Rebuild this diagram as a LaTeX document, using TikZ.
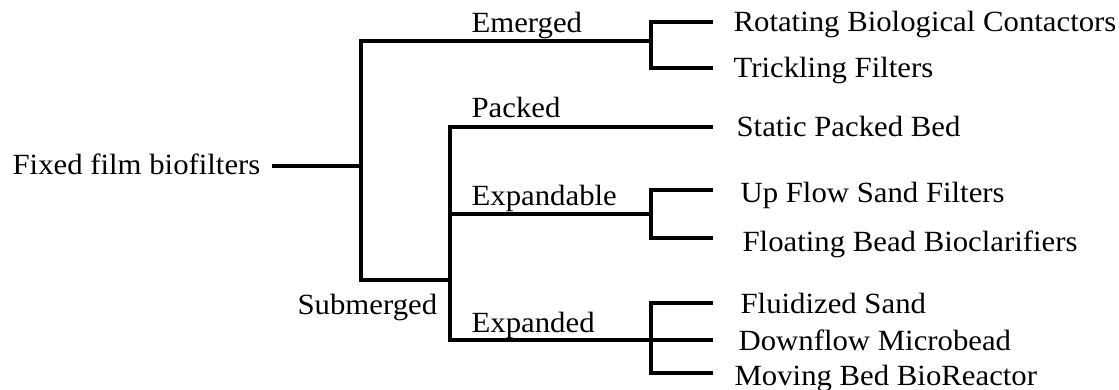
\documentclass[tikz,border=0pt]{standalone}
\usepackage{fontspec}
\setmainfont[FakeStretch=1.05]{Liberation Serif}
\begin{document}
\begin{tikzpicture}[x=1pt,y=-1pt,line width=3.2pt,
  lbl/.style={anchor=base west,inner sep=0pt,font=\fontsize{29.3}{30}\selectfont}]
\useasboundingbox (0,0) rectangle (1119,389);
% labels
\node[lbl] (root) at (11,174) {Fixed film biofilters};
\node[lbl] (em)   at (470,32)  {Emerged};
\node[lbl] (sub)  at (296,314) {Submerged};
\node[lbl] (pk)   at (470,117) {Packed};
\node[lbl] (exb)  at (470,205) {Expandable};
\node[lbl] (exd)  at (470,332) {Expanded};
\node[lbl] (rbc)  at (732,31)  {Rotating Biological Contactors};
\node[lbl] (tf)   at (732,77)  {Trickling Filters};
\node[lbl] (spb)  at (735,136) {Static Packed Bed};
\node[lbl] (ufs)  at (739,202) {Up Flow Sand Filters};
\node[lbl] (fbb)  at (741,251) {Floating Bead Bioclarifiers};
\node[lbl] (fs)   at (739,313) {Fluidized Sand};
\node[lbl] (dm)   at (737,350) {Downflow Microbead};
\node[lbl] (mbb)  at (733,385) {Moving Bed BioReactor};
% junctions
\coordinate (r0)    at (272,166);
\coordinate (j1)    at (361,166);
\coordinate (emJ)   at (651,41);
\coordinate (subJ)  at (450,280);
\coordinate (expbJ) at (651,214);
\coordinate (expdJ) at (651,340);
\coordinate (rbcE)  at (713,22);
\coordinate (tfE)   at (713,68);
\coordinate (spbE)  at (713,127);
\coordinate (ufsE)  at (713,190);
\coordinate (fbbE)  at (713,238);
\coordinate (fsE)   at (713,303);
\coordinate (dmE)   at (713,340);
\coordinate (mbbE)  at (713,373);
% connectors
\draw (r0) -- (j1);
\draw (emJ) -| (j1) |- (subJ);
\draw (rbcE) -| (emJ) |- (tfE);
\draw (spbE) -| (subJ) |- (expdJ);
\draw (expbJ -| subJ) -- (expbJ);
\draw (ufsE) -| (expbJ) |- (fbbE);
\draw (fsE) -| (expdJ) |- (mbbE);
\draw (expdJ) -- (dmE);
\end{tikzpicture}
\end{document}
